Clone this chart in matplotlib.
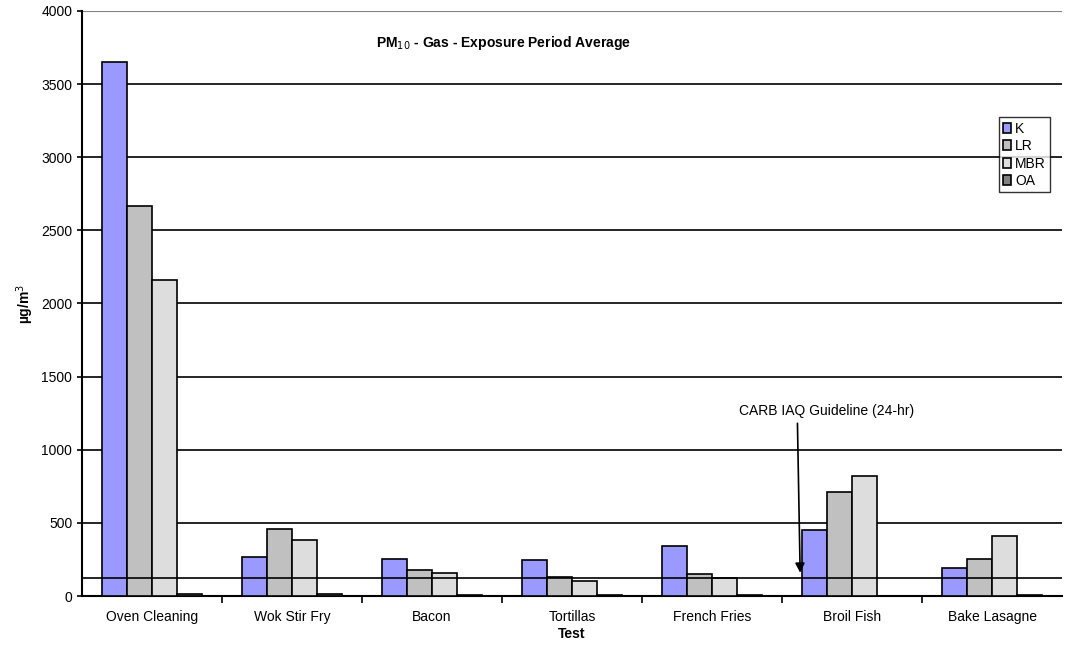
import matplotlib
matplotlib.use('Agg')
import matplotlib.pyplot as plt
import numpy as np

tests = ['Oven Cleaning', 'Wok Stir Fry', 'Bacon', 'Tortillas', 'French Fries', 'Broil Fish', 'Bake Lasagne']
series = ['K', 'LR', 'MBR', 'OA']
k = [3650, 270, 255, 245, 340, 450, 190]
lr = [2670, 460, 175, 130, 150, 710, 255]
mbr = [2160, 380, 160, 105, 120, 820, 410]
oa = [15, 12, 10, 10, 10, 0, 10]
guideline = 120

colors = ['#9999ff', '#c0c0c0', '#dddddd', '#808080']
plt.rcParams['font.family'] = ['Liberation Sans', 'DejaVu Sans']

fig = plt.figure(figsize=(10.76, 6.58), dpi=100)
ax = fig.add_axes([82 / 1076, 1 - 596 / 658, 980 / 1076, 585 / 658])

x = np.arange(len(tests))
w = 0.18
for i, (vals, name) in enumerate(zip([k, lr, mbr, oa], series)):
    ax.bar(x + (i - 1.5) * w, vals, w, color=colors[i], edgecolor='black', linewidth=1.2, label=name, zorder=3)

ax.set_xlim(-0.5, len(tests) - 0.5)
ax.set_ylim(0, 4000)
ax.set_yticks(range(0, 4001, 500))
ax.yaxis.grid(True, color='black', linewidth=1.2, zorder=0)
ax.set_axisbelow(True)
ax.set_xticks(x)
ax.set_xticklabels(tests, fontsize=10)
ax.set_xticks(np.arange(0.5, len(tests) - 0.5), minor=True)
ax.tick_params(axis='x', which='major', length=0, pad=10)
ax.tick_params(axis='x', which='minor', length=5, width=1.2)
ax.tick_params(axis='y', labelsize=10, width=1.2)
for s in ['top', 'right']:
    ax.spines[s].set_visible(False)
ax.spines['left'].set_linewidth(1.5)
ax.spines['bottom'].set_linewidth(1.5)
ax.axhline(4000, color='gray', linewidth=1.5)
ax.axhline(guideline, color='black', linewidth=1.2, zorder=4)

ax.set_xlabel('Test', fontsize=10, fontweight='bold', labelpad=2)
ax.set_ylabel('µg/m$^3$', fontsize=10, fontweight='bold')
ax.text(0.43, 0.946, 'PM$_{10}$ - Gas - Exposure Period Average', transform=ax.transAxes,
        ha='center', va='center', fontsize=10, fontweight='bold')

ax.annotate('', xy=(4.63, guideline + 20), xytext=(4.61, 1200),
            arrowprops=dict(arrowstyle='-|>', color='black', lw=1.2, mutation_scale=14))
ax.text(4.82, 1265, 'CARB IAQ Guideline (24-hr)', ha='center', va='center', fontsize=10)

leg = ax.legend(loc='upper right', bbox_to_anchor=(0.995, 0.83), fontsize=10, frameon=True,
                fancybox=False, edgecolor='black', handlelength=0.6, handletextpad=0.3,
                borderpad=0.3, labelspacing=0.25)
leg.get_frame().set_linewidth(1.0)

fig.savefig('out.png', dpi=100)
